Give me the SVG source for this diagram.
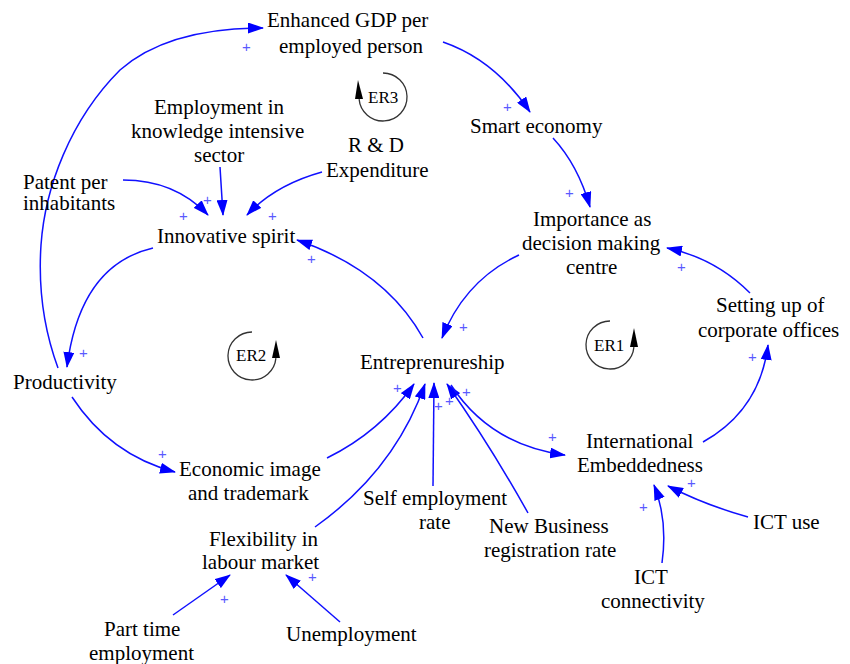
<svg xmlns="http://www.w3.org/2000/svg" width="850" height="664" viewBox="0 0 850 664" font-family="Liberation Serif">
<defs>
<marker id="ah" markerWidth="16" markerHeight="11" refX="15" refY="5.5" orient="auto" markerUnits="userSpaceOnUse">
<path d="M0,0 L16,5.5 L0,11 z" fill="#0000ff"/>
</marker>
</defs>
<rect width="850" height="664" fill="#fff"/>

<g id="connectors" fill="none" stroke="#1010ff" stroke-width="1.5" marker-end="url(#ah)">
<path d="M58,368 C44,330 38,290 41,245 C45,188 70,120 120,70 C160,35 220,28 263,28"/>
<path d="M443,42 Q495,60 530,112"/>
<path d="M553,138 Q578,165 590,207"/>
<path d="M750,293 Q715,258 667,248"/>
<path d="M519,255 Q465,280 442,338"/>
<path d="M423,338 Q385,270 297,240"/>
<path d="M153,248 Q80,265 67,367"/>
<path d="M72,397 Q110,455 175,472"/>
<path d="M327,458 Q380,432 414,384"/>
<path d="M315,527 Q395,470 425,384"/>
<path d="M433,486 L434,383"/>
<path d="M528,513 Q490,445 447,384"/>
<path d="M451,385 Q490,445 565,455"/>
<path d="M703,442 Q760,410 768,345"/>
<path d="M662,563 Q668,520 654,485"/>
<path d="M748,517 Q705,505 668,486"/>
<path d="M173,615 L230,575"/>
<path d="M340,622 L286,575"/>
<path d="M123,180 Q175,180 208,215"/>
<path d="M220,167 L223,215"/>
<path d="M322,172 Q275,185 247,215"/>
</g>

<g id="polarities" fill="#5a5aff">
<text font-family="Liberation Sans" font-size="15" x="242" y="52">+</text>
<text font-family="Liberation Sans" font-size="15" x="503" y="112">+</text>
<text font-family="Liberation Sans" font-size="15" x="565" y="198">+</text>
<text font-family="Liberation Sans" font-size="15" x="677" y="272">+</text>
<text font-family="Liberation Sans" font-size="15" x="748" y="362">+</text>
<text font-family="Liberation Sans" font-size="15" x="459" y="332">+</text>
<text font-family="Liberation Sans" font-size="15" x="307" y="264">+</text>
<text font-family="Liberation Sans" font-size="15" x="179" y="221">+</text>
<text font-family="Liberation Sans" font-size="15" x="203" y="205">+</text>
<text font-family="Liberation Sans" font-size="15" x="268" y="221">+</text>
<text font-family="Liberation Sans" font-size="15" x="79" y="358">+</text>
<text font-family="Liberation Sans" font-size="15" x="158" y="459">+</text>
<text font-family="Liberation Sans" font-size="15" x="393" y="393">+</text>
<text font-family="Liberation Sans" font-size="15" x="434" y="411">+</text>
<text font-family="Liberation Sans" font-size="15" x="445" y="406">+</text>
<text font-family="Liberation Sans" font-size="15" x="462" y="397">+</text>
<text font-family="Liberation Sans" font-size="15" x="548" y="442">+</text>
<text font-family="Liberation Sans" font-size="15" x="639" y="512">+</text>
<text font-family="Liberation Sans" font-size="15" x="687" y="488">+</text>
<text font-family="Liberation Sans" font-size="15" x="220" y="604">+</text>
<text font-family="Liberation Sans" font-size="15" x="308" y="582">+</text>
</g>

<g id="loop-ER3">
<path d="M383,73 A24,24 0 1 1 359.1,99.1" fill="none" stroke="#333" stroke-width="1.3"/>
<polygon points="355,99 363,99 358,80" fill="#000"/>
<text font-family="Liberation Serif" font-size="17" x="368" y="103">ER3</text>
</g>
<g id="loop-ER2">
<path d="M252,332 A24,24 0 1 0 275.9,358.1" fill="none" stroke="#333" stroke-width="1.3"/>
<polygon points="272,358 280,358 276,340" fill="#000"/>
<text font-family="Liberation Serif" font-size="17" x="236" y="361">ER2</text>
</g>
<g id="loop-ER1">
<path d="M610,321 A24,24 0 1 0 633.9,347.1" fill="none" stroke="#333" stroke-width="1.3"/>
<polygon points="630,347 638,347 634,328" fill="#000"/>
<text font-family="Liberation Serif" font-size="17" x="594" y="351">ER1</text>
</g>

<g id="node-gdp"><text font-family="Liberation Serif" font-size="21" x="267" y="27">Enhanced GDP per</text><text font-family="Liberation Serif" font-size="21" x="279" y="53">employed person</text></g>
<g id="node-smart"><text font-family="Liberation Serif" font-size="21" x="470" y="133">Smart economy</text></g>
<g id="node-importance"><text font-family="Liberation Serif" font-size="21" x="533" y="226">Importance as</text><text font-family="Liberation Serif" font-size="21" x="522" y="250">decision making</text><text font-family="Liberation Serif" font-size="21" x="566" y="274">centre</text></g>
<g id="node-corporate"><text font-family="Liberation Serif" font-size="21" x="716" y="312">Setting up of</text><text font-family="Liberation Serif" font-size="21" x="698" y="337">corporate offices</text></g>
<g id="node-employment"><text font-family="Liberation Serif" font-size="21" x="154" y="114">Employment in</text><text font-family="Liberation Serif" font-size="21" x="131" y="138">knowledge intensive</text><text font-family="Liberation Serif" font-size="21" x="194" y="162">sector</text></g>
<g id="node-rd"><text font-family="Liberation Serif" font-size="21" x="348" y="152">R &amp; D</text><text font-family="Liberation Serif" font-size="21" x="326" y="177">Expenditure</text></g>
<g id="node-patent"><text font-family="Liberation Serif" font-size="21" x="23" y="189">Patent per</text><text font-family="Liberation Serif" font-size="21" x="23" y="210">inhabitants</text></g>
<g id="node-innovative"><text font-family="Liberation Serif" font-size="21" x="157" y="243">Innovative spirit</text></g>
<g id="node-entrepreneurship"><text font-family="Liberation Serif" font-size="21" x="360" y="369">Entreprenureship</text></g>
<g id="node-productivity"><text font-family="Liberation Serif" font-size="21" x="13" y="389">Productivity</text></g>
<g id="node-international"><text font-family="Liberation Serif" font-size="21" x="586" y="448">International</text><text font-family="Liberation Serif" font-size="21" x="577" y="472">Embeddedness</text></g>
<g id="node-economic"><text font-family="Liberation Serif" font-size="21" x="179" y="476">Economic image</text><text font-family="Liberation Serif" font-size="21" x="188" y="500">and trademark</text></g>
<g id="node-self"><text font-family="Liberation Serif" font-size="21" x="363" y="505">Self employment</text><text font-family="Liberation Serif" font-size="21" x="419" y="529">rate</text></g>
<g id="node-newbusiness"><text font-family="Liberation Serif" font-size="21" x="489" y="533">New Business</text><text font-family="Liberation Serif" font-size="21" x="484" y="557">registration rate</text></g>
<g id="node-ictuse"><text font-family="Liberation Serif" font-size="21" x="753" y="529">ICT use</text></g>
<g id="node-flexibility"><text font-family="Liberation Serif" font-size="21" x="209" y="546">Flexibility in</text><text font-family="Liberation Serif" font-size="21" x="202" y="569">labour market</text></g>
<g id="node-ictconn"><text font-family="Liberation Serif" font-size="21" x="634" y="584">ICT</text><text font-family="Liberation Serif" font-size="21" x="601" y="608">connectivity</text></g>
<g id="node-parttime"><text font-family="Liberation Serif" font-size="21" x="104" y="636">Part time</text><text font-family="Liberation Serif" font-size="21" x="89" y="660">employment</text></g>
<g id="node-unemployment"><text font-family="Liberation Serif" font-size="21" x="286" y="641">Unemployment</text></g>
</svg>
